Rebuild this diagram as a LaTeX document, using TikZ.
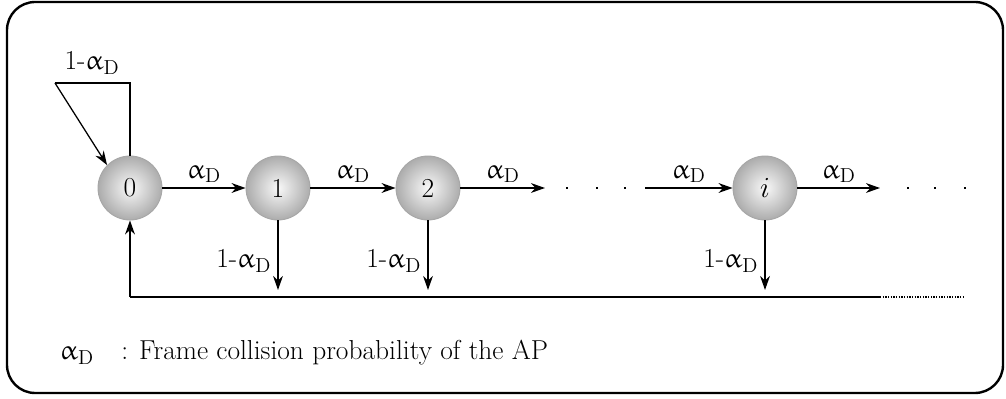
\documentclass[tikz,border=0pt]{standalone}
\usepackage{amsmath,amssymb}
\usepackage{upgreek}
\usepackage{tikz}
\usetikzlibrary{
    arrows.meta,
    calc
}

\newcommand{\aD}{$\upalpha_{\mathrm{D}}$}
\newcommand{\naD}{1-$\upalpha_{\mathrm{D}}$}

\begin{document}
\begin{tikzpicture}[x=0.025cm,y=-0.025cm,
  font=\fontsize{19.5}{23}\selectfont,
  state/.style={circle,draw=gray!70,line width=0.6pt,minimum size=64*0.025cm,
    inner sep=0pt,shading=radial,inner color=gray!5,outer color=gray!65},
  edge/.style={line width=1.1pt,-{Stealth[length=10pt,width=7pt]}},
  plain/.style={line width=1.1pt},
  dot/.style={fill=black,minimum size=2pt,inner sep=0pt}]

\useasboundingbox (0,0) rectangle (1006,399);

% Frame
\draw[line width=1.7pt,rounded corners=20] (7,2) rectangle (1003,393);

% States
\node[state] (s0) at (130,188) {0};
\node[state] (s1) at (278,188) {1};
\node[state] (s2) at (428,188) {2};
\node[state] (si) at (765,188) {$i$};

% Forward transitions
\coordinate (e2) at (545,188);
\coordinate (bi) at (645,188);
\coordinate (ei) at (880,188);
\draw[edge] (s0) -- (s1) node[midway,above=0pt] {\aD};
\draw[edge] (s1) -- (s2) node[midway,above=0pt] {\aD};
\draw[edge] (s2) -- (e2) node[midway,above=0pt] {\aD};
\draw[edge] (bi) -- (si) node[midway,above=0pt] {\aD};
\draw[edge] (si) -- (ei) node[midway,above=0pt] {\aD};
\foreach \x in {567,597,625,908,935,965}
  \node[dot] at (\x,188) {};

% Self loop
\coordinate (l1) at (130,83);
\coordinate (l2) at (55,83);
\draw[plain] (s0.north) -- (l1) -- (l2);
\draw[edge,line width=0.9pt] (l2) -- (s0.north west);
\node (lab0) at (92,63) {\naD};

% Return transitions
\coordinate (r0) at (130,297);
\coordinate (rs) at (880,297);
\coordinate (re) at (963,297);
\draw[plain] (r0) -- (rs);
\draw[line width=0.9pt,densely dotted] (rs) -- (re);
\draw[edge] (r0) -- (s0);
\foreach \s/\x in {s1/278,s2/428,si/765}{
  \draw[edge] (\s) -- (\x,290) node[midway,left=1pt,yshift=-4pt] {\naD};
}

% Legend
\node[anchor=west] (leg) at (55,353) {\aD\quad: Frame collision probability of the AP};

\end{tikzpicture}
\end{document}
